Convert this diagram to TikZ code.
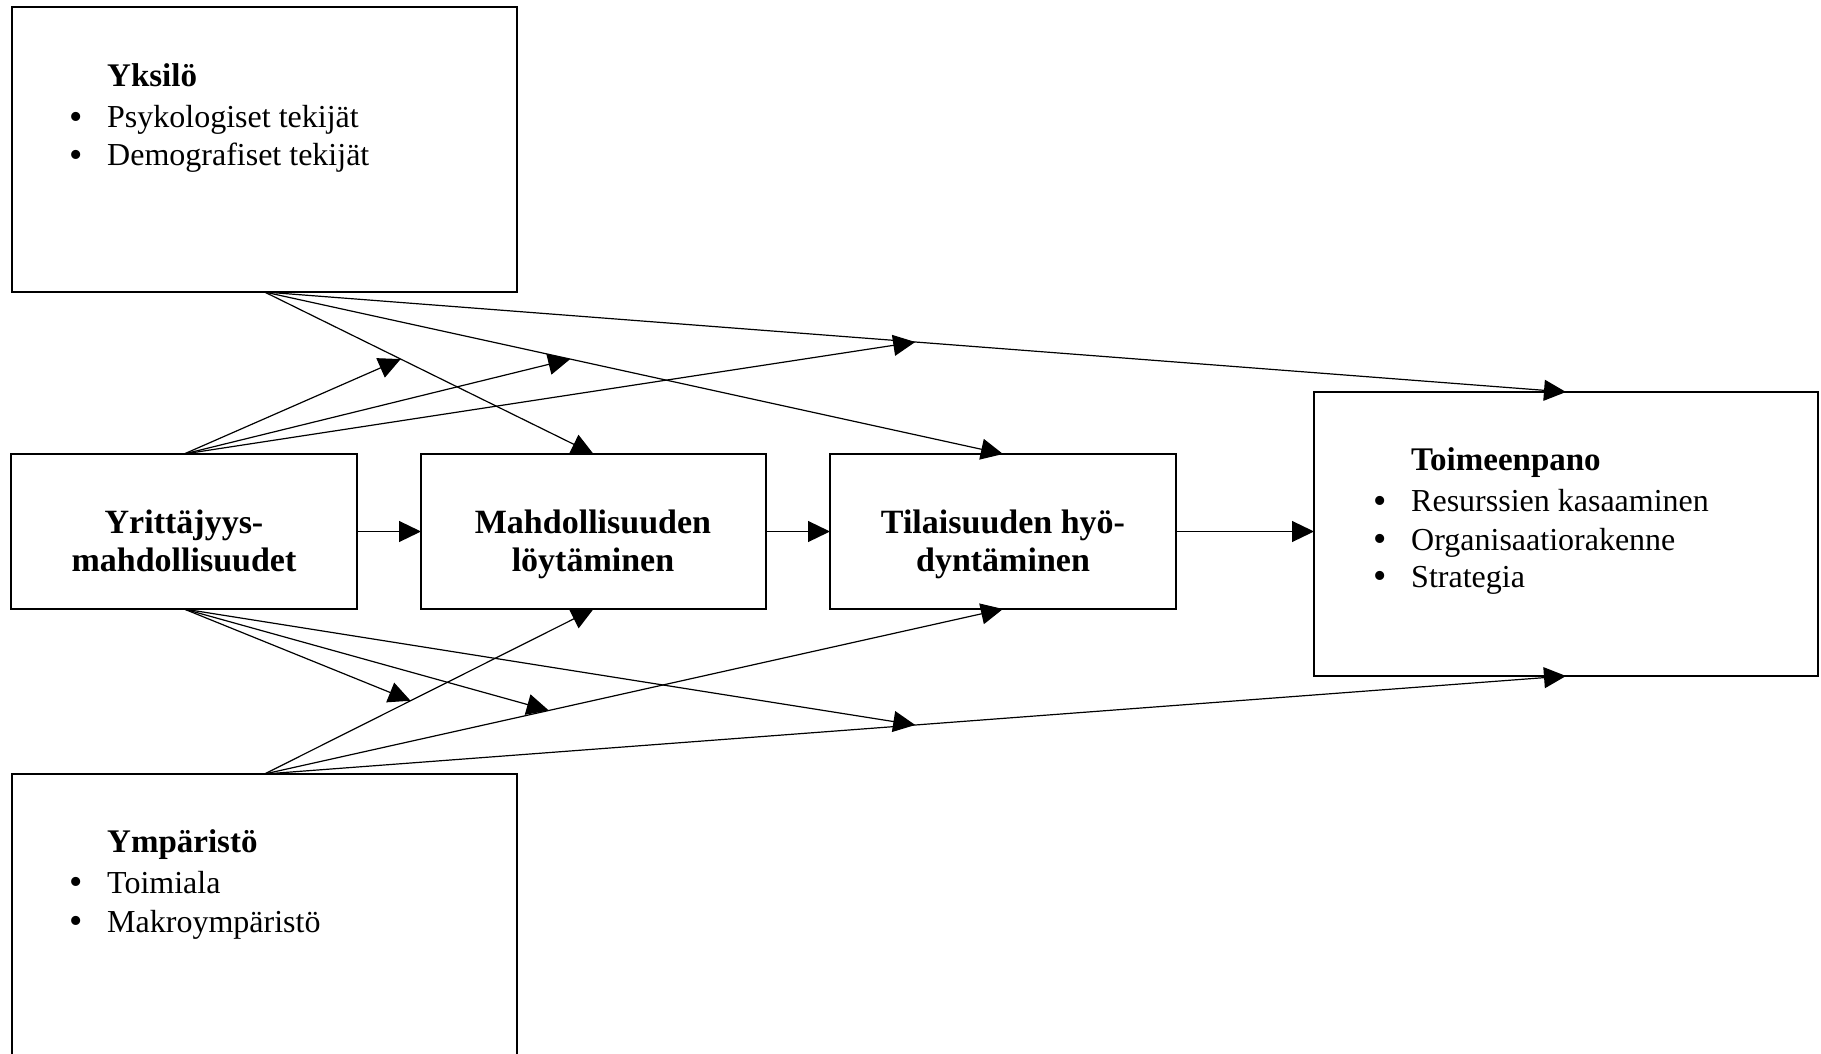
\documentclass[tikz,border=0pt]{standalone}
\usepackage{fontspec}
\setmainfont{Liberation Serif}
\usetikzlibrary{arrows.meta,calc}
\begin{document}
\begin{tikzpicture}[x=1pt,y=-1pt,
  box/.style={draw,line width=1.3pt,inner sep=0,outer sep=0,anchor=north west},
  con/.style={line width=1.2pt,-{Triangle[length=22pt,width=21pt]}},
  ttl/.style={font=\fontsize{33}{38}\selectfont\bfseries,anchor=base west,inner sep=0},
  ctr/.style={font=\fontsize{34}{38}\selectfont\bfseries,anchor=base,inner sep=0},
  itm/.style={font=\fontsize{32}{38}\selectfont,anchor=base west,inner sep=0},
  bul/.style={font=\fontsize{38}{38}\selectfont,anchor=base,inner sep=0,yshift=-1.5pt}]
\useasboundingbox (0,0) rectangle (1821,1054);
% boxes
\node[box,minimum width=505pt,minimum height=285pt] (yk) at (12,7) {};
\node[box,minimum width=346pt,minimum height=155pt] (yr) at (11,454) {};
\node[box,minimum width=345pt,minimum height=155pt] (mahd) at (421,454) {};
\node[box,minimum width=346pt,minimum height=155pt] (til) at (830,454) {};
\node[box,minimum width=504pt,minimum height=284pt] (toim) at (1314,392) {};
\node[box,minimum width=505pt,minimum height=285pt] (ym) at (12,774) {};
% Yksilo text
\node[ttl] (ykt) at (107,87) {Yksilö};
\node[bul] (ykb1) at (76,128) {•};
\node[itm] (yki1) at (107,128) {Psykologiset tekijät};
\node[bul] (ykb2) at (76,166) {•};
\node[itm] (yki2) at (107,166) {Demografiset tekijät};
% Ymparisto text
\node[ttl] (ymt) at (107,852) {Ympäristö};
\node[bul] (ymb1) at (76,893) {•};
\node[itm] (ymi1) at (107,893) {Toimiala};
\node[bul] (ymb2) at (76,932) {•};
\node[itm] (ymi2) at (107,932) {Makroympäristö};
% Toimeenpano text
\node[ttl] (tot) at (1411,470) {Toimeenpano};
\node[bul] (tob1) at (1380,511.5) {•};
\node[itm] (toi1) at (1411,511.5) {Resurssien kasaaminen};
\node[bul] (tob2) at (1380,550) {•};
\node[itm] (toi2) at (1411,550) {Organisaatiorakenne};
\node[bul] (tob3) at (1380,587) {•};
\node[itm] (toi3) at (1411,587) {Strategia};
% centre boxes text
\node[ctr] (yrt1) at (184,533) {Yrittäjyys-};
\node[ctr] (yrt2) at (184,571) {mahdollisuudet};
\node[ctr] (mat1) at (593,533) {Mahdollisuuden};
\node[ctr] (mat2) at (593,571) {löytäminen};
\node[ctr] (tit1) at (1003,533) {Tilaisuuden hyö-};
\node[ctr] (tit2) at (1003,571) {dyntäminen};
% main arrows
\draw[con] (yr.east) -- (mahd.west);
\draw[con] (mahd.east) -- (til.west);
\draw[con] (til.east) -- (til.east -| toim.west);
\draw[con] (yk.south) -- (mahd.north);
\draw[con] (yk.south) -- (til.north);
\draw[con] (yk.south) -- (toim.north);
\draw[con] (ym.north) -- (mahd.south);
\draw[con] (ym.north) -- (til.south);
\draw[con] (ym.north) -- (toim.south);
% moderating arrows
\coordinate (u1) at ($(yk.south)!0.414!(mahd.north)$);
\coordinate (u2) at ($(yk.south)!0.414!(til.north)$);
\coordinate (u3) at ($(yk.south)!0.5!(toim.north)$);
\coordinate (l1) at ($(ym.north)!0.444!(mahd.south)$);
\coordinate (l2) at ($(ym.north)!0.385!(til.south)$);
\coordinate (l3) at ($(ym.north)!0.5!(toim.south)$);
\draw[con] (yr.north) -- (u1);
\draw[con] (yr.north) -- (u2);
\draw[con] (yr.north) -- (u3);
\draw[con] (yr.south) -- (l1);
\draw[con] (yr.south) -- (l2);
\draw[con] (yr.south) -- (l3);
\end{tikzpicture}
\end{document}
